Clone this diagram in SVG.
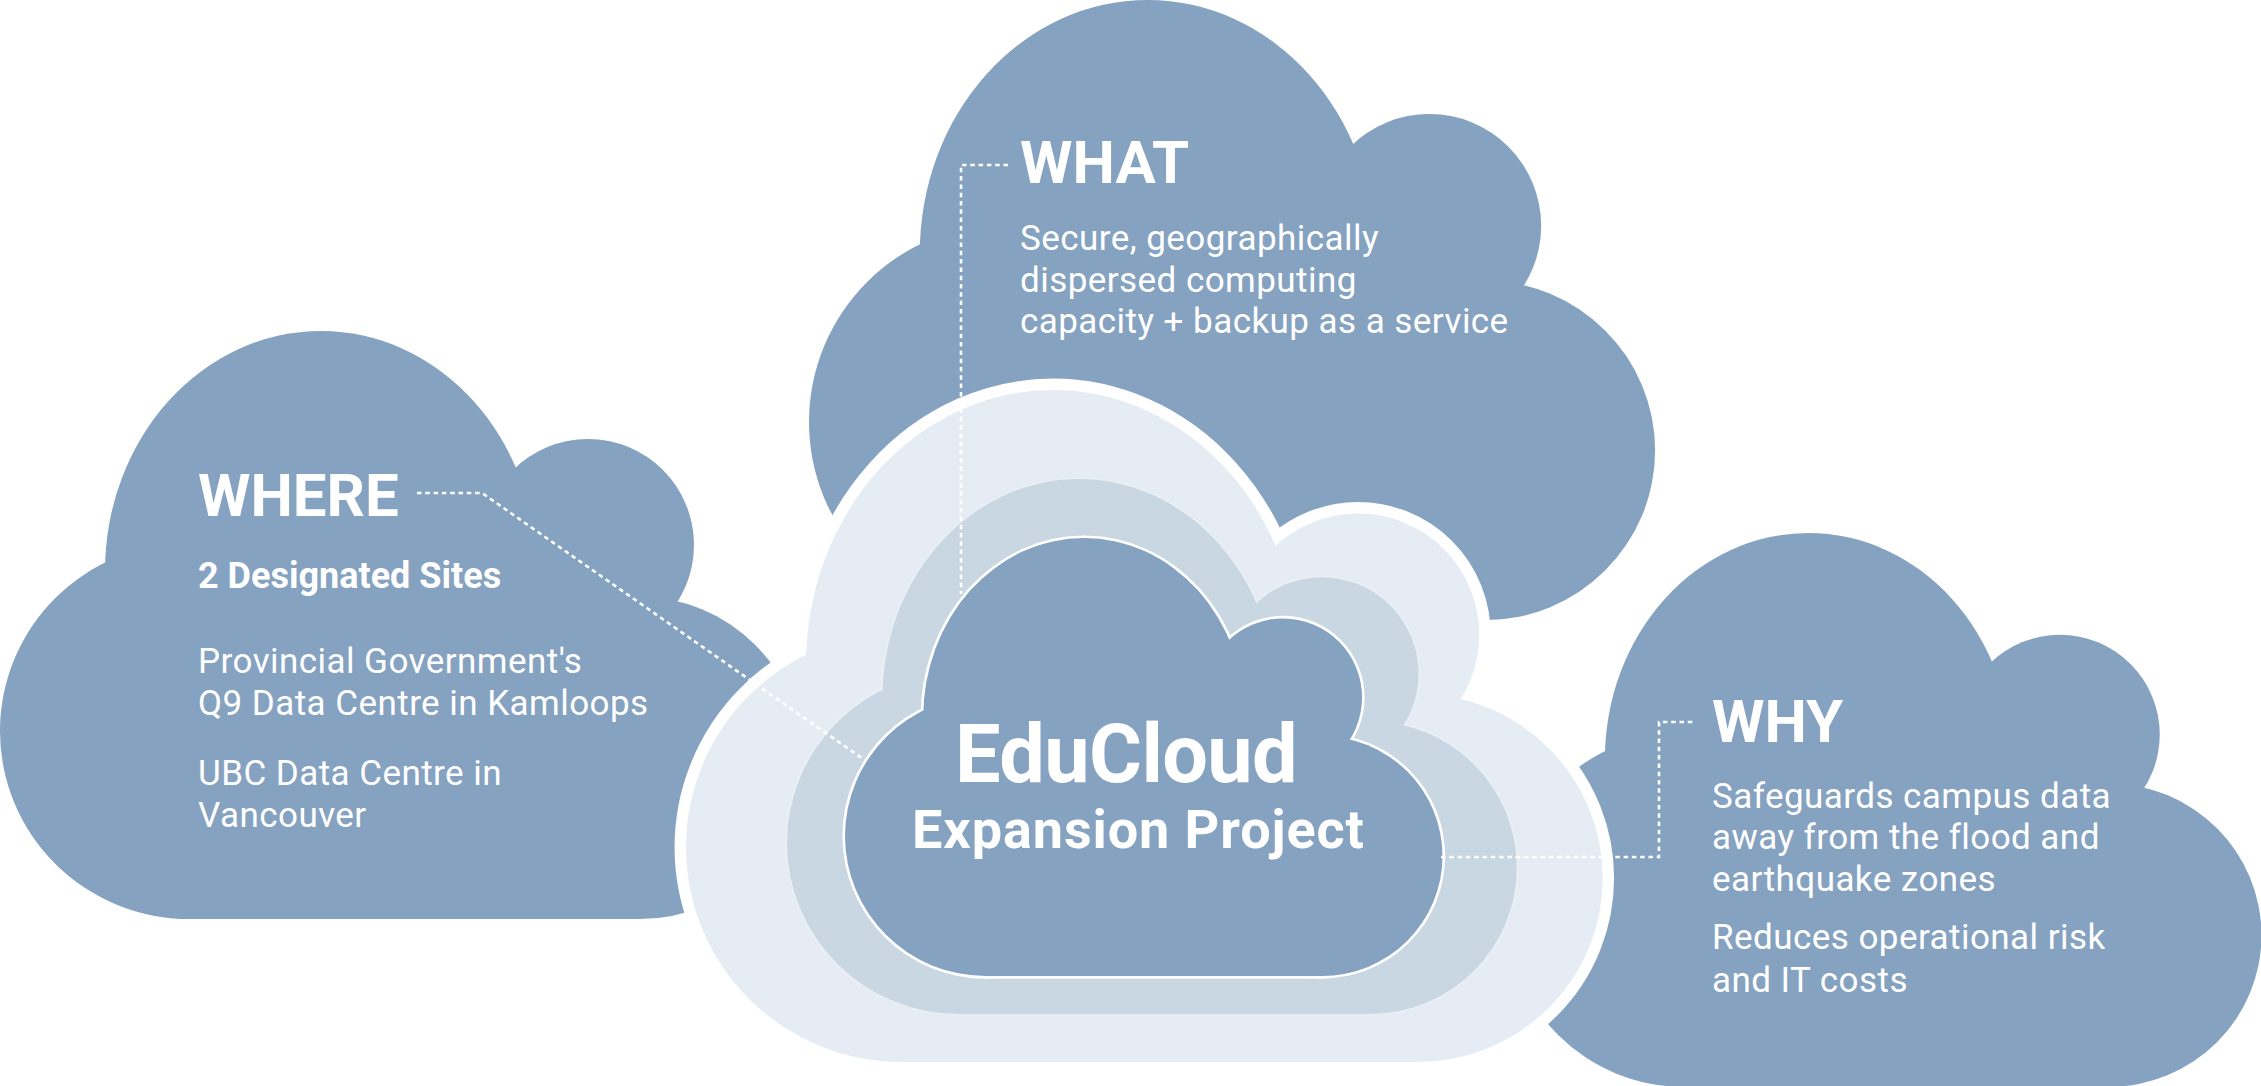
<svg xmlns="http://www.w3.org/2000/svg" xmlns:xlink="http://www.w3.org/1999/xlink" width="2261" height="1086" viewBox="0 0 2261 1086">
<style>
.blue{fill:#85a2c0}
.t{fill:#ffffff;font-family:Roboto,"Liberation Sans",Arial,sans-serif}
.h{font-size:60px;font-weight:700}
.sub{font-size:36px;font-weight:700}
.body{font-size:35px;font-weight:400;letter-spacing:0.45px}
.conn{fill:none;stroke:#ffffff;stroke-width:2.6;stroke-dasharray:4.5 3.8}
</style>
<defs>
<g id="cloud">
<ellipse cx="321" cy="240" rx="216" ry="240"/>
<circle cx="588" cy="214" r="106"/>
<ellipse cx="640" cy="427" rx="162" ry="161"/>
<ellipse cx="189" cy="400" rx="189" ry="188"/>
<rect x="189" y="250" width="451" height="338"/>
</g>
</defs>
<rect width="2261" height="1086" fill="#ffffff"/>

<g id="where">
<use xlink:href="#cloud" href="#cloud" class="blue" transform="translate(0,331)"/>
<text class="t h" x="198" y="516">WHERE</text>
<text class="t sub" x="198" y="588">2 Designated Sites</text>
<text class="t body" x="198" y="673">Provincial Government's</text>
<text class="t body" x="198" y="715">Q9 Data Centre in Kamloops</text>
<text class="t body" x="198" y="785">UBC Data Centre in</text>
<text class="t body" x="198" y="827">Vancouver</text>
</g>

<g id="what">
<use xlink:href="#cloud" href="#cloud" class="blue" transform="translate(809,0) scale(1.055)"/>
<text class="t h" x="1020" y="183">WHAT</text>
<text class="t body" x="1020" y="250">Secure, geographically</text>
<text class="t body" x="1020" y="292">dispersed computing</text>
<text class="t body" x="1020" y="333">capacity + backup as a service</text>
</g>

<g id="why">
<use xlink:href="#cloud" href="#cloud" class="blue" transform="translate(1506,533) scale(0.942)"/>
<text class="t h" x="1712" y="742">WHY</text>
<text class="t body" x="1712" y="808">Safeguards campus data</text>
<text class="t body" x="1712" y="849">away from the flood and</text>
<text class="t body" x="1712" y="891">earthquake zones</text>
<text class="t body" x="1712" y="949">Reduces operational risk</text>
<text class="t body" x="1712" y="992">and IT costs</text>
</g>

<g id="educloud">
<use xlink:href="#cloud" href="#cloud" fill="#ffffff" stroke="#ffffff" stroke-width="20" transform="translate(686,390) scale(1.143)"/>
<use xlink:href="#cloud" href="#cloud" fill="#e6ecf3" transform="translate(686,390) scale(1.143)"/>
<use xlink:href="#cloud" href="#cloud" fill="#eaeff5" stroke="#eaeff5" stroke-width="4" transform="translate(787,479) scale(0.91)"/>
<use xlink:href="#cloud" href="#cloud" fill="#c9d7e3" transform="translate(787,479) scale(0.91)"/>
<use xlink:href="#cloud" href="#cloud" fill="#ffffff" stroke="#ffffff" stroke-width="7" transform="translate(845,538) scale(0.745)"/>
<use xlink:href="#cloud" href="#cloud" class="blue" transform="translate(845,538) scale(0.745)"/>
<text class="t" x="955" y="782" font-size="81" font-weight="700" letter-spacing="-0.6">EduCloud</text>
<text class="t" x="912" y="848" font-size="54" font-weight="700" letter-spacing="0.9">Expansion Project</text>
</g>

<g id="connectors">
<path class="conn" d="M417 493 H482 L866 761"/>
<path class="conn" d="M1008 165 H961 V594"/>
<path class="conn" d="M1441 857 H1659 V722 H1695"/>
</g>
</svg>
